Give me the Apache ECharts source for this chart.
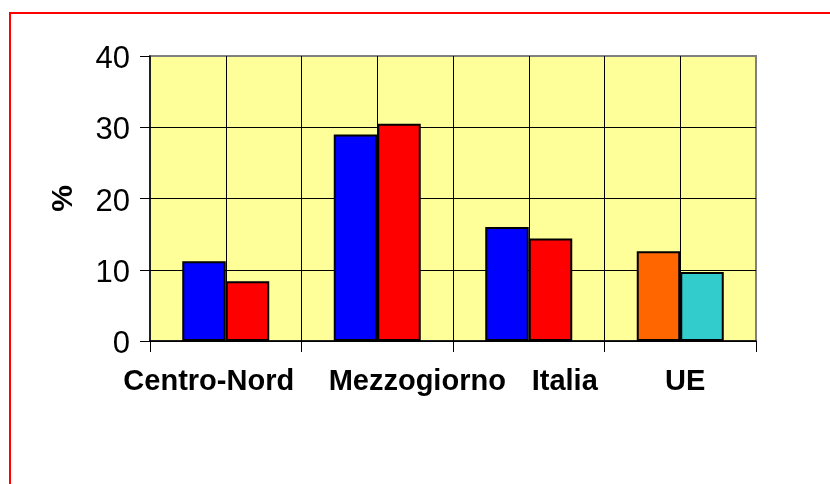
<!DOCTYPE html>
<html>
<head>
<meta charset="utf-8">
<script src="https://cdn.jsdelivr.net/npm/echarts@6/dist/echarts.min.js"></script>
<style>
  html, body { margin: 0; padding: 0; background: #fff; }
  #chart { width: 830px; height: 484px; }
</style>
</head>
<body>
<div id="chart"></div>
<script>
// categories and values
const categories = ["Centro-Nord", "Mezzogiorno", "Italia", "UE"];
const firstValues = [11.2, 29.0, 16.0, 12.6];
const secondValues = [8.4, 30.5, 14.4, 9.7];
const yTicks = [0, 10, 20, 30, 40];

// per-bar fill colours (UE uses its own pair)
const firstColors = ["#0000FF", "#0000FF", "#0000FF", "#FF6600"];
const secondColors = ["#FF0000", "#FF0000", "#FF0000", "#33CCCC"];
// horizontal nudge of each category label, in px (excel-like placement)
const labelShift = [-17, 40, 36, 5];

const font = "'Liberation Sans', Arial, sans-serif";

const chart = echarts.init(document.getElementById("chart"));

const xData = categories.map((name, i) => {
  const s = labelShift[i];
  return {
    value: name,
    textStyle: { padding: s > 0 ? [0, 0, 0, 2 * s] : [0, -2 * s, 0, 0] }
  };
});

const makeBars = (values, colors) =>
  values.map((v, i) => ({ value: v, itemStyle: { color: colors[i] } }));

chart.setOption({
  animation: false,
  graphic: [
    {
      type: "rect",
      shape: { x: 10, y: 13, width: 900, height: 600 },
      style: { fill: "none", stroke: "#FF0000", lineWidth: 2 },
      silent: true
    }
  ],
  grid: {
    left: 150,
    top: 56,
    right: 74,
    bottom: 143,
    show: true,
    backgroundColor: "#FFFF99",
    borderColor: "#808080",
    borderWidth: 2
  },
  xAxis: [
    {
      type: "category",
      data: xData,
      boundaryGap: true,
      axisLine: { lineStyle: { color: "#000", width: 1.5 } },
      axisTick: { show: true, length: 11, lineStyle: { color: "#000", width: 1 } },
      axisLabel: {
        interval: 0,
        margin: 26,
        color: "#000",
        fontFamily: font,
        fontWeight: "bold",
        fontSize: 29
      },
      splitLine: { show: false }
    },
    {
      // only used for the vertical grid every half category
      type: "category",
      data: ["", "", "", "", "", "", "", ""],
      boundaryGap: true,
      position: "bottom",
      axisLine: { show: false },
      axisTick: { show: false },
      axisLabel: { show: false },
      splitLine: {
        show: true,
        showMinLine: false,
        showMaxLine: false,
        lineStyle: { color: "#000", width: 1 }
      }
    }
  ],
  yAxis: {
    type: "value",
    min: yTicks[0],
    max: yTicks[yTicks.length - 1],
    interval: 10,
    name: "%",
    nameLocation: "middle",
    nameGap: 71,
    nameMoveOverlap: false,
    nameTextStyle: {
      color: "#000",
      fontFamily: font,
      fontWeight: "bold",
      fontSize: 30
    },
    axisLine: { show: true, lineStyle: { color: "#000", width: 1.5 } },
    axisTick: { show: true, length: 10, lineStyle: { color: "#000", width: 1 } },
    axisLabel: {
      margin: 20,
      color: "#000",
      fontFamily: font,
      fontSize: 31,
      formatter: "{v|{value}}",
      rich: {
        v: {
          padding: [7, 0, 0, 0],
          color: "#000",
          fontFamily: font,
          fontSize: 31
        }
      }
    },
    splitLine: {
      show: true,
      showMaxLine: false,
      lineStyle: { color: "#000", width: 1 }
    }
  },
  series: [
    {
      type: "bar",
      xAxisIndex: 0,
      barWidth: 43.5,
      barGap: "0%",
      itemStyle: { borderColor: "#000", borderWidth: 2 },
      data: makeBars(firstValues, firstColors)
    },
    {
      type: "bar",
      xAxisIndex: 0,
      barWidth: 43.5,
      barGap: "0%",
      itemStyle: { borderColor: "#000", borderWidth: 2 },
      data: makeBars(secondValues, secondColors)
    }
  ]
});
</script>
</body>
</html>
